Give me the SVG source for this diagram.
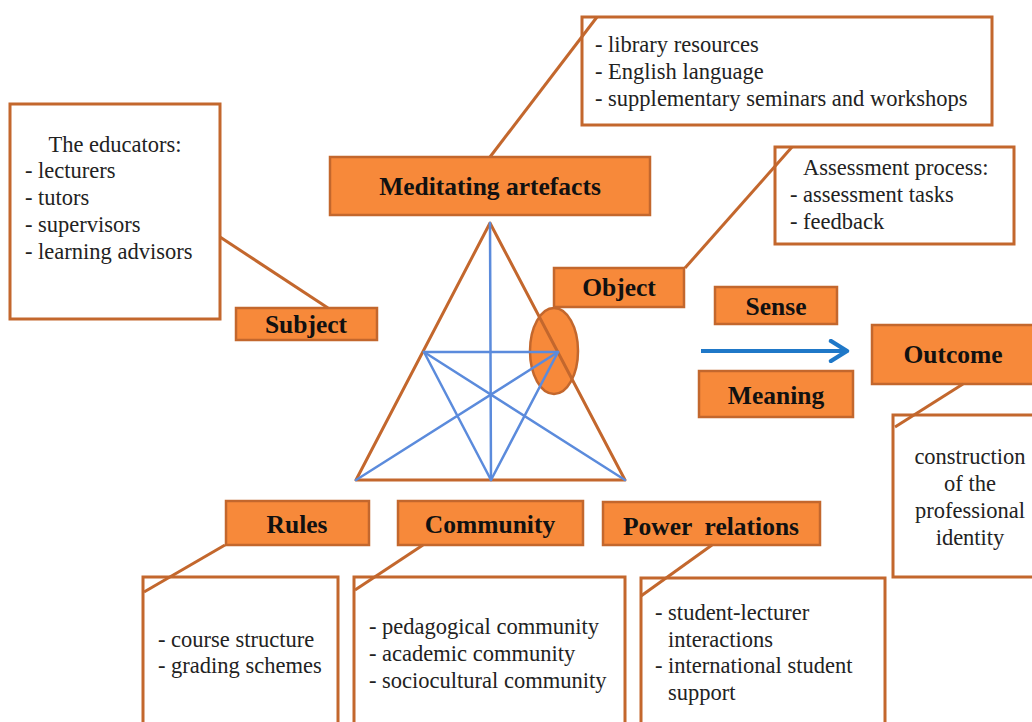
<svg xmlns="http://www.w3.org/2000/svg" width="1032" height="722" viewBox="0 0 1032 722">
  <style>
    .lbl { fill: #F7893A; stroke: #C3672D; stroke-width: 2.5; }
    .box { fill: #FFFFFF; stroke: #C3672D; stroke-width: 3; }
    .lt { font-family: "Liberation Serif", "Times New Roman", serif; font-weight: bold; font-size: 25.5px; fill: #111; text-anchor: middle; }
    .bt { font-family: "Liberation Serif", "Times New Roman", serif; font-size: 22.5px; fill: #222; }
    .ct { text-anchor: middle; }
    .link { stroke: #C3672D; stroke-width: 3; fill: none; }
    .tri { stroke: #C3672D; stroke-width: 3; fill: none; stroke-linejoin: round; }
    .star { stroke: #5B8BDC; stroke-width: 2.5; fill: none; stroke-linecap: round; }
  </style>
  <defs>
    <marker id="chev" viewBox="0 0 12 12" refX="10" refY="6" markerWidth="6" markerHeight="6" orient="auto" markerUnits="strokeWidth">
      <path d="M2,1 L10,6 L2,11" fill="none" stroke="#1F78C8" stroke-width="2.2" stroke-linecap="round" stroke-linejoin="round"/>
    </marker>
  </defs>
  <rect width="1032" height="722" fill="#FFFFFF"/>

  <!-- central activity triangle -->
  <g id="triangle">
    <ellipse cx="554" cy="351" rx="24" ry="43" fill="#F7893A" stroke="#C3672D" stroke-width="2.5"/>
    <polygon class="tri" points="490,223 356,480 625,480"/>
    <line class="star" x1="490" y1="223" x2="491" y2="480"/>
    <line class="star" x1="424" y1="352" x2="558" y2="352"/>
    <line class="star" x1="424" y1="352" x2="491" y2="480"/>
    <line class="star" x1="558" y1="352" x2="491" y2="480"/>
    <line class="star" x1="424" y1="352" x2="625" y2="480"/>
    <line class="star" x1="558" y1="352" x2="356" y2="480"/>
  </g>

  <g id="artefacts">
    <rect class="lbl" x="330" y="157" width="320" height="58"/>
    <text class="lt" x="490" y="195">Meditating artefacts</text>
  </g>
  <g id="artefacts-notes">
    <rect class="box" x="582" y="17" width="410" height="108"/>
    <text class="bt" x="595" y="52">- library resources</text>
    <text class="bt" x="595" y="79">- English language</text>
    <text class="bt" x="595" y="106">- supplementary seminars and workshops</text>
  </g>

  <g id="subject-notes">
    <rect class="box" x="10" y="104" width="210" height="215"/>
    <text class="bt ct" x="115" y="152">The educators:</text>
    <text class="bt" x="25" y="178">- lecturers</text>
    <text class="bt" x="25" y="205">- tutors</text>
    <text class="bt" x="25" y="232">- supervisors</text>
    <text class="bt" x="25" y="259">- learning advisors</text>
  </g>
  <g id="subject">
    <rect class="lbl" x="236" y="308" width="141" height="32"/>
    <text class="lt" x="306" y="333">Subject</text>
  </g>

  <g id="object">
    <rect class="lbl" x="554" y="268" width="130" height="39"/>
    <text class="lt" x="619" y="296">Object</text>
  </g>
  <g id="object-notes">
    <rect class="box" x="775" y="147" width="239" height="97"/>
    <text class="bt" x="803" y="175">Assessment process:</text>
    <text class="bt" x="790" y="202">- assessment tasks</text>
    <text class="bt" x="790" y="229">- feedback</text>
  </g>

  <g id="sense">
    <rect class="lbl" x="715" y="287" width="122" height="37"/>
    <text class="lt" x="776" y="315">Sense</text>
  </g>
  <g id="meaning">
    <rect class="lbl" x="699" y="371" width="154" height="46"/>
    <text class="lt" x="776" y="404">Meaning</text>
  </g>
  <g id="outcome">
    <rect class="lbl" x="872" y="325" width="170" height="59"/>
    <text class="lt" x="953" y="363">Outcome</text>
  </g>
  <g id="outcome-notes">
    <rect class="box" x="893" y="415" width="150" height="162"/>
    <text class="bt ct" x="970" y="464">construction</text>
    <text class="bt ct" x="970" y="491">of the</text>
    <text class="bt ct" x="970" y="518">professional</text>
    <text class="bt ct" x="970" y="545">identity</text>
  </g>

  <g id="rules">
    <rect class="lbl" x="226" y="501" width="143" height="44"/>
    <text class="lt" x="297" y="533">Rules</text>
  </g>
  <g id="rules-notes">
    <rect class="box" x="143" y="577" width="195" height="160"/>
    <text class="bt" x="158" y="647">- course structure</text>
    <text class="bt" x="158" y="673">- grading schemes</text>
  </g>

  <g id="community">
    <rect class="lbl" x="398" y="501" width="185" height="44"/>
    <text class="lt" x="490" y="533">Community</text>
  </g>
  <g id="community-notes">
    <rect class="box" x="354" y="577" width="271" height="160"/>
    <text class="bt" x="369" y="634">- pedagogical community</text>
    <text class="bt" x="369" y="661">- academic community</text>
    <text class="bt" x="369" y="688">- sociocultural community</text>
  </g>

  <g id="power">
    <rect class="lbl" x="603" y="502" width="217" height="43"/>
    <text class="lt" x="711" y="535" xml:space="preserve">Power  relations</text>
  </g>
  <g id="power-notes">
    <rect class="box" x="641" y="578" width="244" height="160"/>
    <text class="bt" x="655" y="620">- student-lecturer</text>
    <text class="bt" x="668" y="647">interactions</text>
    <text class="bt" x="655" y="673">- international student</text>
    <text class="bt" x="668" y="700">support</text>
  </g>

  <!-- connectors -->
  <g id="connectors">
    <line class="link" x1="490" y1="157" x2="597" y2="17"/>
    <line class="link" x1="220" y1="237" x2="328" y2="308"/>
    <line class="link" x1="685" y1="268" x2="792" y2="147"/>
    <line class="link" x1="963" y1="384" x2="895" y2="427"/>
    <line class="link" x1="225" y1="545" x2="144" y2="592"/>
    <line class="link" x1="423" y1="545" x2="355" y2="590"/>
    <line class="link" x1="712" y1="545" x2="641" y2="596"/>
    <line x1="701" y1="351" x2="847" y2="351" stroke="#1F78C8" stroke-width="4" marker-end="url(#chev)"/>
  </g>
</svg>
